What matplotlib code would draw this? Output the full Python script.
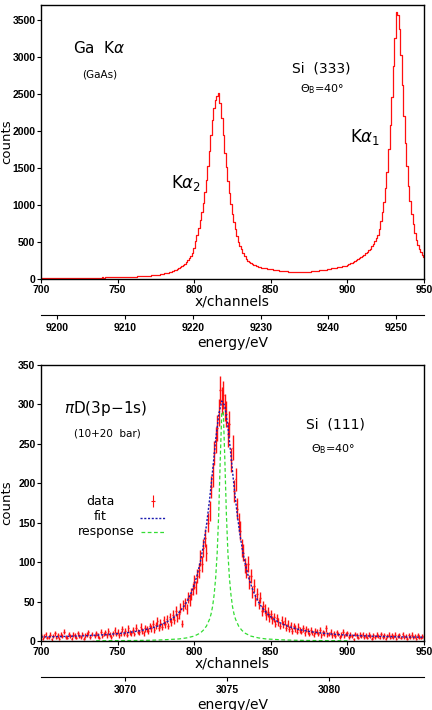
import numpy as np
import matplotlib
matplotlib.use("Agg")
import matplotlib.pyplot as plt

# --------- top panel: Ga K-alpha on Si(333), one bin per channel ---------
top_channels = np.arange(700, 951)
top_counts = [
    8, 9, 7, 9, 10, 8, 10, 11, 9, 10,
    11, 10, 12, 11, 13, 12, 11, 13, 14, 12,
    14, 13, 15, 14, 16, 15, 14, 16, 17, 15,
    17, 16, 18, 17, 19, 18, 20, 19, 18, 20,
    21, 20, 22, 21, 23, 22, 21, 24, 23, 22,
    24, 25, 24, 26, 27, 26, 28, 29, 28, 30,
    31, 32, 31, 34, 35, 36, 38, 37, 40, 42,
    44, 45, 48, 50, 52, 55, 57, 60, 63, 67,
    72, 76, 82, 86, 93, 100, 108, 115, 124, 135,
    146, 160, 172, 190, 208, 228, 252, 280, 310, 350,
    420, 510, 600, 690, 790, 900, 1020, 1170, 1340, 1530,
    1730, 1950, 2150, 2310, 2420, 2470, 2510, 2380, 2180, 1950,
    1700, 1510, 1330, 1160, 1010, 880, 770, 670, 580, 505,
    440, 400, 355, 310, 270, 248, 230, 216, 204, 194,
    185, 176, 168, 161, 155, 151, 147, 143, 140, 136,
    132, 129, 126, 123, 120, 117, 114, 111, 108, 106,
    104, 102, 100, 99, 98, 96, 95, 94, 94, 96,
    95, 93, 96, 97, 98, 97, 100, 102, 104, 107,
    110, 112, 115, 117, 120, 124, 128, 131, 134, 138,
    142, 146, 150, 154, 158, 162, 166, 171, 176, 182,
    190, 199, 210, 219, 230, 242, 255, 267, 280, 295,
    310, 327, 345, 364, 385, 410, 440, 472, 510, 552,
    600, 680, 780, 900, 1040, 1230, 1450, 1750, 2080, 2460,
    2880, 3250, 3600, 3560, 3380, 3020, 2620, 2200, 1830, 1520,
    1250, 1050, 880, 740, 620, 530, 460, 410, 370, 330, 300,
]

# --------- bottom panel: pi D(3p-1s) on Si(111) ---------
bot_channels = np.arange(700, 951)
bot_data = [
    7, 3, 6, 9, 4, 5, 8, 2, 6, 10,
    4, 7, 3, 8, 6, 12, 5, 4, 9, 6,
    3, 8, 7, 4, 10, 6, 5, 9, 3, 7,
    8, 11, 5, 9, 0, 6, 10, 7, 4, 12,
    6, 9, 11, 7, 13, 8, 5, 10, 14, 9,
    12, 7, 10, 15, 9, 13, 8, 16, 11, 10,
    14, 9, 17, 12, 11, 18, 13, 10, 16, 15,
    13, 19, 16, 22, 14, 20, 25, 17, 23, 18,
    26, 21, 28, 19, 30, 24, 33, 27, 38, 29,
    34, 42, 22, 45, 48, 41, 55, 52, 60, 66,
    75, 68, 82, 90, 105, 98, 118, 130, 112, 150,
    165, 195, 210, 238, 255, 270, 290, 318, 305, 312,
    296, 288, 262, 275, 230, 245, 190, 205, 168, 150,
    140, 118, 112, 96, 90, 98, 75, 82, 62, 70,
    52, 60, 47, 55, 38, 44, 40, 33, 37, 30,
    34, 27, 30, 22, 29, 24, 19, 27, 21, 25,
    17, 22, 15, 20, 13, 19, 16, 12, 18, 14,
    12, 16, 10, 15, 13, 9, 14, 11, 8, 13,
    12, 9, 14, 7, 11, 10, 16, 8, 9, 12,
    7, 10, 6, 11, 9, 5, 8, 12, 6, 9,
    10, 5, 8, 6, 2, 9, 7, 4, 8, 6,
    9, 5, 7, 4, 8, 6, 3, 7, 5, 8,
    6, 4, 9, 5, 7, 3, 6, 8, 4, 7,
    5, 8, 3, 6, 7, 4, 9, 5, 6, 3,
    7, 5, 8, 4, 6, 3, 7, 5, 4, 6, 5,
]
fit_channels = np.arange(700, 951, 2)
bot_fit = [
    5.1, 5.2, 5.3, 5.4, 5.5, 5.5, 5.6, 5.7, 5.8, 6.0, 6.1, 6.2, 6.3, 6.5, 6.6, 6.8,
    7.0, 7.2, 7.4, 7.6, 7.8, 8.1, 8.3, 8.6, 9.0, 9.3, 9.7, 10.1, 10.5, 11.0, 11.6,
    12.2, 12.8, 13.6, 14.4, 15.3, 16.4, 17.5, 18.8, 20.4, 22.1, 24.1, 26.4, 29.1,
    32.3, 36.1, 40.7, 46.1, 52.8, 61.1, 71.3, 84.2, 100.4, 121, 146.8, 178.6, 215.7,
    254.7, 287.2, 304.2, 298.4, 272, 234.9, 196.3, 161.7, 133, 110, 91.8, 77.4, 65.9,
    56.7, 49.3, 43.3, 38.3, 34.1, 30.7, 27.7, 25.2, 23.1, 21.2, 19.6, 18.2, 16.9,
    15.8, 14.8, 14.0, 13.2, 12.5, 11.9, 11.3, 10.8, 10.3, 9.9, 9.5, 9.1, 8.8, 8.5,
    8.2, 7.9, 7.7, 7.5, 7.3, 7.1, 6.9, 6.7, 6.6, 6.4, 6.3, 6.1, 6.0, 5.9, 5.8, 5.7,
    5.6, 5.5, 5.4, 5.3, 5.2, 5.2, 5.1, 5.0, 5.0, 4.9, 4.9, 4.8, 4.8,
]
resp_channels = [736, 750, 760, 770, 780, 790, 795, 800, 804, 806, 808, 810, 811,
                 812, 813, 814, 815, 816, 817, 818, 819, 820, 821, 822, 823, 824,
                 825, 826, 827, 829, 831, 833, 837, 842, 847, 857, 867, 877, 887, 900]
resp_counts = [0.3, 0.5, 0.6, 0.9, 1.5, 2.6, 3.9, 6.2, 10.1, 13.8, 18.9, 27.5, 34.1,
               43.7, 58.5, 79.8, 111.7, 161.3, 229.8, 290.4, 290.4, 229.8, 161.3,
               111.7, 79.8, 58.5, 43.7, 34.1, 27.5, 18.9, 13.8, 10.1, 6.2, 3.9, 2.6,
               1.5, 0.9, 0.6, 0.5, 0.3]

top_yticks = [0, 500, 1000, 1500, 2000, 2500, 3000, 3500]
bot_yticks = [0, 50, 100, 150, 200, 250, 300, 350]
chan_ticks = [700, 750, 800, 850, 900, 950]
top_eticks = [9200, 9210, 9220, 9230, 9240, 9250]
bot_eticks = [3070, 3075, 3080]

W, H = 432, 710
RED = "#ff1010"
BLUE = "#1a1ab0"
GREEN = "#33dd33"
TICKFONT = "Liberation Sans"
fig = plt.figure(figsize=(W / 100, H / 100), dpi=100)


def bold_ticks(ax):
    for lab in ax.get_xticklabels() + ax.get_yticklabels():
        lab.set_fontweight("bold")
        lab.set_fontfamily(TICKFONT)


def style_axes(ax):
    for s in ax.spines.values():
        s.set_linewidth(1.0)
    ax.tick_params(direction="out", length=3, width=0.8, labelsize=7.5, pad=1)
    bold_ticks(ax)
    ax.yaxis.set_label_coords(-0.072, 0.5)


def energy_axis(y_px, lims, ticks):
    ea = fig.add_axes([41 / W, 1 - y_px / H, 383 / W, 0.0001])
    for side in ("left", "right", "top"):
        ea.spines[side].set_visible(False)
    ea.set_yticks([])
    ea.set_xlim(*lims)
    ea.set_xticks(ticks)
    ea.tick_params(direction="out", length=3, width=0.8, labelsize=7.5, pad=3)
    bold_ticks(ea)
    ea.set_xlabel("energy/eV", fontsize=10, labelpad=2)
    ea.patch.set_visible(False)
    return ea


# ---- top ----
ax1 = fig.add_axes([41 / W, 1 - 279 / H, 383 / W, 274 / H])
ax1.step(top_channels, top_counts, where="mid", color=RED, lw=0.9)
ax1.set_xlim(700, 950)
ax1.set_ylim(0, 3700)
ax1.set_xticks(chan_ticks)
ax1.set_yticks(top_yticks)
ax1.set_xlabel("x/channels", fontsize=10, labelpad=0)
ax1.set_ylabel("counts", fontsize=9.5)
style_axes(ax1)

t = ax1.transAxes
ax1.text(0.152, 0.843, r"Ga  K$\alpha$", transform=t, ha="center", va="center", fontsize=11)
ax1.text(0.154, 0.748, "(GaAs)", transform=t, ha="center", va="center", fontsize=7.5)
ax1.text(0.379, 0.350, r"K$\alpha_2$", transform=t, ha="center", va="center", fontsize=12)
ax1.text(0.846, 0.518, r"K$\alpha_1$", transform=t, ha="center", va="center", fontsize=12)
ax1.text(0.731, 0.770, "Si  (333)", transform=t, ha="center", va="center", fontsize=10)
ax1.text(0.734, 0.693, r"$\Theta_\mathrm{B}$=40°", transform=t, ha="center", va="center", fontsize=8)

energy_axis(315, (9197.6, 9254.1), top_eticks)

# ---- bottom ----
ax2 = fig.add_axes([41 / W, 1 - 641 / H, 383 / W, 276 / H])
ax2.errorbar(bot_channels, bot_data, yerr=np.sqrt(bot_data), xerr=0.5, fmt="none",
             ecolor=RED, elinewidth=1.0)
ax2.plot(resp_channels, resp_counts, color=GREEN, lw=0.9, ls=(0, (3, 2)))
ax2.plot(fit_channels, bot_fit, color=BLUE, lw=1.0, ls=(0, (1.5, 1.2)))
ax2.set_xlim(700, 950)
ax2.set_ylim(0, 350)
ax2.set_xticks(chan_ticks)
ax2.set_yticks(bot_yticks)
ax2.set_xlabel("x/channels", fontsize=10, labelpad=0)
ax2.set_ylabel("counts", fontsize=9.5)
style_axes(ax2)

t = ax2.transAxes
ax2.text(0.170, 0.841, r"$\pi$D(3p$-$1s)", transform=t, ha="center", va="center", fontsize=11)
ax2.text(0.174, 0.750, "(10+20  bar)", transform=t, ha="center", va="center", fontsize=7.5)
ax2.text(0.769, 0.786, "Si  (111)", transform=t, ha="center", va="center", fontsize=10)
ax2.text(0.762, 0.696, r"$\Theta_\mathrm{B}$=40°", transform=t, ha="center", va="center", fontsize=8)

# hand-drawn legend
ax2.text(0.156, 0.507, "data", transform=t, ha="center", va="center", fontsize=9)
ax2.text(0.154, 0.450, "fit", transform=t, ha="center", va="center", fontsize=9)
ax2.text(0.170, 0.395, "response", transform=t, ha="center", va="center", fontsize=9)
ax2.errorbar([0.292], [0.507], yerr=[0.022], xerr=[0.005], transform=t, fmt="none",
             ecolor=RED, elinewidth=0.8)
ax2.plot([0.258, 0.326], [0.446, 0.446], transform=t, color=BLUE, lw=1.0,
         ls=(0, (1.5, 1.2)))
ax2.plot([0.262, 0.326], [0.395, 0.395], transform=t, color=GREEN, lw=0.9,
         ls=(0, (3, 2)))

energy_axis(677, (3065.89, 3084.65), bot_eticks)

fig.savefig("out.png", dpi=100)
